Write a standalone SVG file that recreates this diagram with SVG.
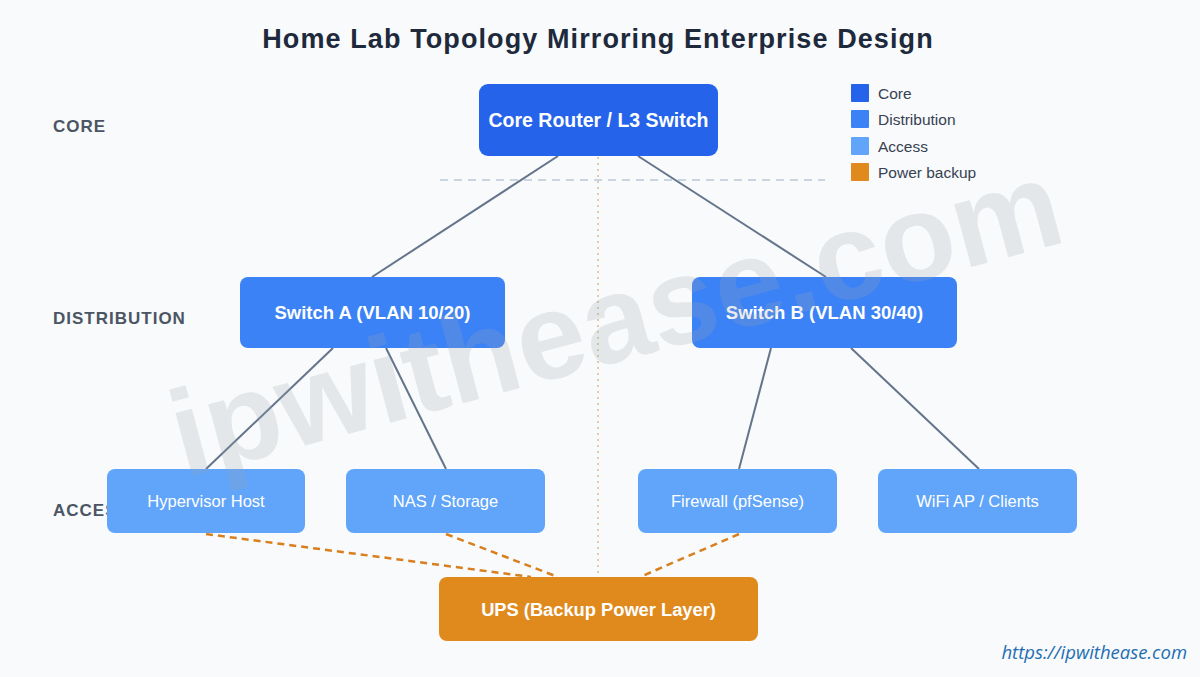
<svg xmlns="http://www.w3.org/2000/svg" width="1200" height="677" viewBox="0 0 1200 677">
  <style>
    text { font-family: "Liberation Sans", Arial, sans-serif; }
    .title { font-size: 27px; font-weight: bold; fill: #1e293b; letter-spacing: 1.1px; }
    .layer { font-size: 17px; font-weight: bold; fill: #4b5563; letter-spacing: 1px; }
    .core { fill: #2563eb; }
    .dist { fill: #3b82f6; }
    .acc { fill: #60a5fa; }
    .ups { fill: #e08a1e; }
    .lbl-b { fill: #ffffff; font-weight: bold; text-anchor: middle; dominant-baseline: central; }
    .lbl { fill: #ffffff; font-size: 16.5px; text-anchor: middle; dominant-baseline: central; }
    .legend { font-size: 15.5px; fill: #374151; dominant-baseline: central; }
    .link { stroke: #64748b; stroke-width: 2; fill: none; }
    .power { stroke: #d97f1e; stroke-width: 2.5; stroke-dasharray: 7 5; fill: none; }
  </style>
  <rect x="0" y="0" width="1200" height="677" fill="#f8fafc"/>

  <text class="title" x="598" y="48" text-anchor="middle">Home Lab Topology Mirroring Enterprise Design</text>

  <text class="layer" x="53" y="132">CORE</text>
  <text class="layer" x="53" y="324">DISTRIBUTION</text>
  <text class="layer" x="53" y="516">ACCESS</text>

  <!-- guides -->
  <line x1="440" y1="180" x2="825" y2="180" stroke="#cbd5e1" stroke-width="2" stroke-dasharray="8 6"/>
  <line x1="598" y1="157" x2="598" y2="576" stroke="#e2c9a8" stroke-width="2" stroke-dasharray="2 4"/>

  <g id="connectors">
    <line class="link" x1="558" y1="156" x2="372" y2="277"/>
    <line class="link" x1="638" y1="156" x2="826" y2="277"/>
    <line class="link" x1="333" y1="348" x2="206" y2="469"/>
    <line class="link" x1="386" y1="348" x2="446" y2="469"/>
    <line class="link" x1="771" y1="348" x2="739" y2="469"/>
    <line class="link" x1="851" y1="348" x2="979" y2="469"/>
    <line class="power" x1="206" y1="534" x2="531" y2="577"/>
    <line class="power" x1="446" y1="534" x2="558" y2="577"/>
    <line class="power" x1="739" y1="534" x2="640" y2="577"/>
  </g>

  <g id="core-router">
    <rect class="core" x="479" y="84" width="239" height="72" rx="9"/>
    <text class="lbl-b" x="598.5" y="120" font-size="19.5">Core Router / L3 Switch</text>
  </g>

  <g id="switch-a">
    <rect class="dist" x="240" y="277" width="265" height="71" rx="8"/>
    <text class="lbl-b" x="372.5" y="312.5" font-size="18.5">Switch A (VLAN 10/20)</text>
  </g>
  <g id="switch-b">
    <rect class="dist" x="692" y="277" width="265" height="71" rx="8"/>
    <text class="lbl-b" x="824.5" y="312.5" font-size="18.5">Switch B (VLAN 30/40)</text>
  </g>

  <g id="hypervisor">
    <rect class="acc" x="107" y="469" width="198" height="64" rx="8"/>
    <text class="lbl" x="206" y="501">Hypervisor Host</text>
  </g>
  <g id="nas">
    <rect class="acc" x="346" y="469" width="199" height="64" rx="8"/>
    <text class="lbl" x="445.5" y="501">NAS / Storage</text>
  </g>
  <g id="firewall">
    <rect class="acc" x="638" y="469" width="199" height="64" rx="8"/>
    <text class="lbl" x="737.5" y="501">Firewall (pfSense)</text>
  </g>
  <g id="wifi">
    <rect class="acc" x="878" y="469" width="199" height="64" rx="8"/>
    <text class="lbl" x="977.5" y="501">WiFi AP / Clients</text>
  </g>

  <g id="ups">
    <rect class="ups" x="439" y="577" width="319" height="64" rx="8"/>
    <text class="lbl-b" x="598.5" y="609" font-size="18.3">UPS (Backup Power Layer)</text>
  </g>

  <g id="legend">
    <rect class="core" x="851" y="84" width="18" height="18" rx="1"/>
    <text class="legend" x="878" y="93">Core</text>
    <rect class="dist" x="851" y="110" width="18" height="18" rx="1"/>
    <text class="legend" x="878" y="119">Distribution</text>
    <rect class="acc" x="851" y="137" width="18" height="18" rx="1"/>
    <text class="legend" x="878" y="146">Access</text>
    <rect class="ups" x="851" y="163" width="18" height="18" rx="1"/>
    <text class="legend" x="878" y="172">Power backup</text>
  </g>

  <text x="184" y="478" transform="rotate(-15 184 478)" font-size="123" font-weight="bold" fill="#9ca3af" fill-opacity="0.22">ipwithease.com</text>

  <text x="1187" y="659" text-anchor="end" font-size="18.5" font-style="italic" fill="#1f6fb2" style="font-family: 'Open Sans', 'Liberation Sans', sans-serif;">https://ipwithease.com</text>
</svg>
